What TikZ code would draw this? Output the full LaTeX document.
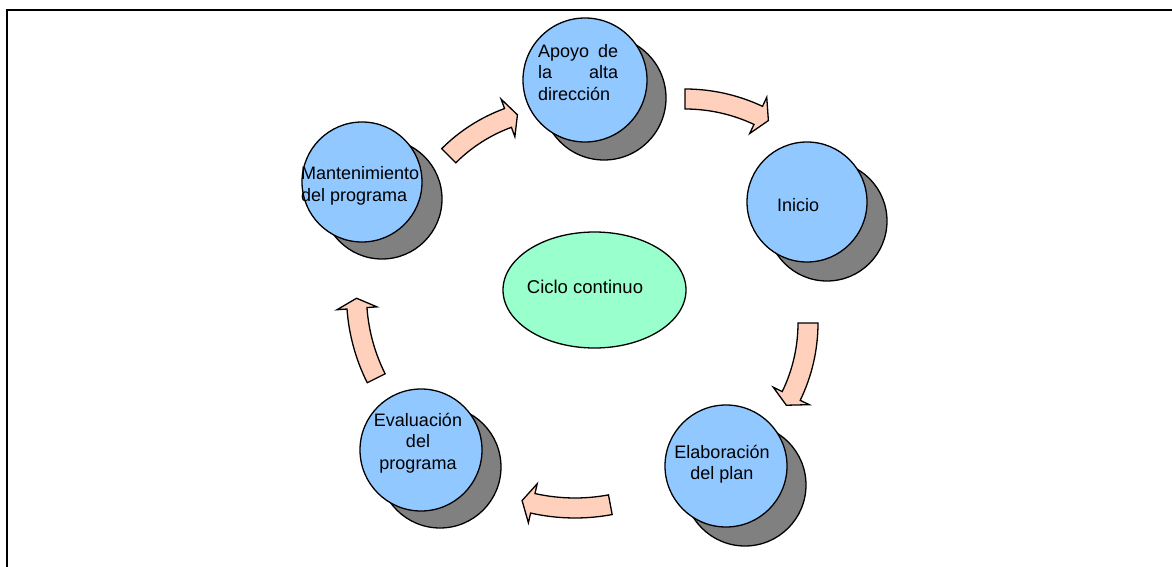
\documentclass[tikz,border=0pt]{standalone}
\usepackage{fontspec}
\setmainfont{Liberation Sans}
\usetikzlibrary{calc,shapes.geometric}
\definecolor{nodeblue}{RGB}{145,200,255}
\definecolor{shadowgray}{RGB}{128,128,128}
\definecolor{mint}{RGB}{153,255,204}
\definecolor{peach}{RGB}{255,208,188}
\newcommand\cyclearrow[6]{%
  \filldraw[arrowbody] ($(#1,#2)+(#4:#3+10)$) arc[start angle=#4, end angle=#5, radius=#3+10]
    -- ($(#1,#2)+(#5:#3+20)$) -- ($(#1,#2)+(#6:#3)$) -- ($(#1,#2)+(#5:#3-20)$)
    -- ($(#1,#2)+(#5:#3-10)$) arc[start angle=#5, end angle=#4, radius=#3-10] -- cycle;}
\begin{document}
\begin{tikzpicture}[x=1pt,y=-1pt,
  stage/.style={circle, draw=black, line width=1.3pt, fill=nodeblue, minimum size=#1, inner sep=0pt},
  stageshadow/.style={circle, draw=black, line width=1.3pt, fill=shadowgray, minimum size=#1, inner sep=0pt},
  label/.style={font=\fontsize{18}{21.5}\selectfont, inner sep=0pt},
  arrowbody/.style={fill=peach, draw=black, line width=1.3pt, line join=miter},
  frame/.style={line width=2pt, draw=black}]
\useasboundingbox (0,0) rectangle (1172,567);
% frame
\draw[frame] (7,567) -- (7,10) -- (1172,10);
% shadows
\node[stageshadow=124pt] (apoyoS) at (604,98) {};
\node[stageshadow=120pt] (inicioS) at (827,221) {};
\node[stageshadow=122pt] (elabS) at (745,485) {};
\node[stageshadow=122pt] (evalS) at (440,467) {};
\node[stageshadow=120pt] (mantS) at (382,199) {};
% stages
\node[stage=124pt] (apoyo) at (585,80) {};
\node[stage=120pt] (inicio) at (807,202) {};
\node[stage=122pt] (elab) at (726,466) {};
\node[stage=122pt] (eval) at (421,450) {};
\node[stage=120pt] (mant) at (362,182) {};
% center
\node[ellipse, draw=black, line width=1.3pt, fill=mint, minimum width=183pt, minimum height=116pt, inner sep=0pt] (ciclo) at (594.5,290) {};
% texts
\node[label, align=left, anchor=north west] (apoyoT) at (538,44) {\makebox[80pt][l]{Apoyo\hfill de}\\\makebox[80pt][l]{la\hfill alta}\\direcci\'on};
\node[label] (inicioT) at (798,205) {Inicio};
\node[label, align=center] (elabT) at (722,464) {Elaboraci\'on\\del plan};
\node[label, align=center] (evalT) at (418,443) {Evaluaci\'on\\del\\programa};
\node[label, align=left, anchor=west] (mantT) at (301,186) {Mantenimiento\\del programa};
\node[label, font=\fontsize{18.5}{22}\selectfont] (cicloT) at (585,287) {Ciclo continuo};
% cycle arrows
\cyclearrow{685}{271}{172}{-90}{-64.8}{-61}
\cyclearrow{641}{323}{167}{0}{25.9}{29.5}
\cyclearrow{575}{316}{192}{79.4}{102.7}{106}
\cyclearrow{542.5}{295}{186}{153.4}{175.9}{179}
\cyclearrow{564}{271}{163}{-135}{-110.1}{-106.6}
\end{tikzpicture}
\end{document}
